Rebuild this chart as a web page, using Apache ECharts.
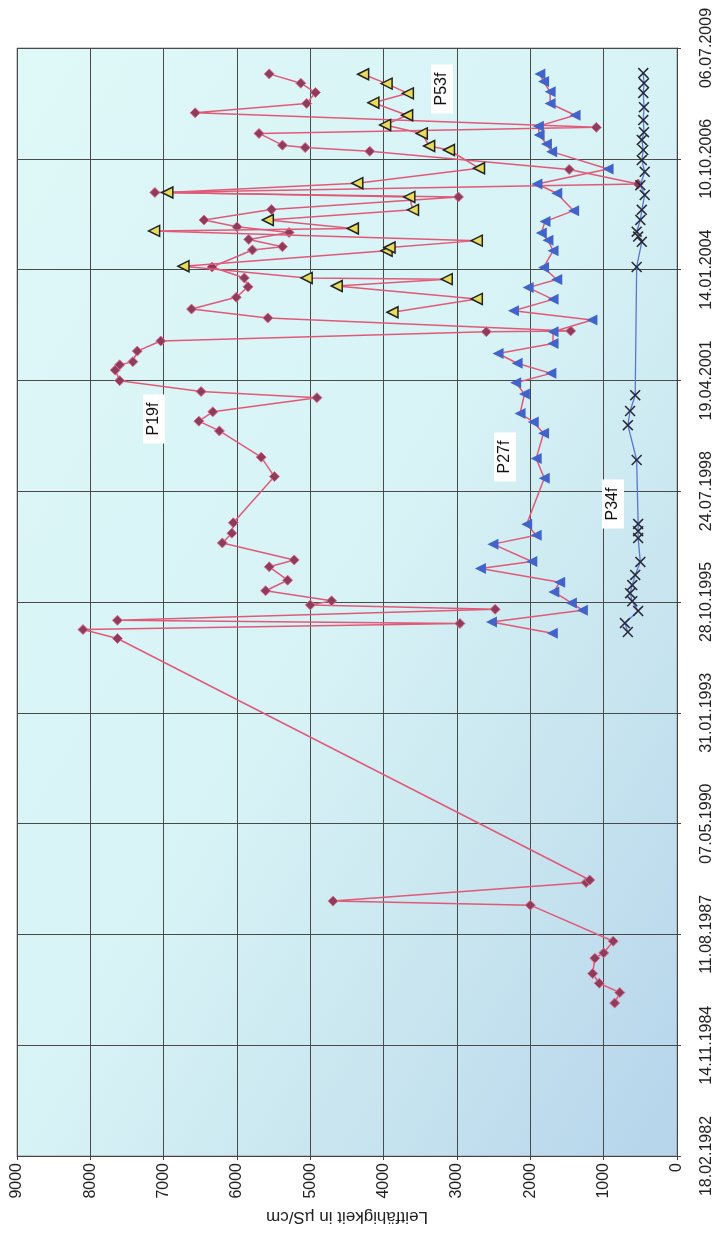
<!DOCTYPE html>
<html><head><meta charset="utf-8">
<script src="https://cdn.jsdelivr.net/npm/echarts@6/dist/echarts.min.js"></script>
<style>html,body{margin:0;padding:0;background:#fff}#c{width:715px;height:1241px}</style>
</head><body><div id="c"></div>
<script>
// tick labels of the date axis (every 1000 days, Excel serials 30000..40000)
const dateLabels = ['18.02.1982','14.11.1984','11.08.1987','07.05.1990','31.01.1993','28.10.1995','24.07.1998','19.04.2001','14.01.2004','10.10.2006','06.07.2009'];
const valueTicks = [0,1000,2000,3000,4000,5000,6000,7000,8000,9000];

// sampling dates (decimal years) and conductivity in µS/cm
const p19Dates = [1985.91,1986.17,1986.40,1986.64,1987.02,1987.15,1987.44,1988.33,1988.43,1988.89,1988.95,1994.92,1995.14,1995.29,1995.37,1995.64,1995.75,1995.85,1996.10,1996.36,1996.69,1996.86,1997.28,1997.52,1997.78,1998.92,1999.40,2000.05,2000.29,2000.52,2000.87,2001.02,2001.29,2001.55,2001.68,2001.76,2002.02,2002.27,2002.50,2002.52,2002.84,2003.06,2003.35,2003.61,2003.83,2004.10,2004.52,2004.60,2004.78,2004.95,2005.09,2005.26,2005.52,2005.83,2005.94,2006.15,2006.51,2006.96,2007.05,2007.11,2007.40,2007.55,2007.91,2008.14,2008.41,2008.64,2008.87];
const p19Values = [850,780,1060,1150,1120,1000,870,2000,4690,1240,1190,7630,8100,2960,7630,2480,5000,4710,5610,5310,5560,5220,6200,6070,6050,5490,5670,6240,6520,6330,4910,6490,7600,7660,7600,7420,7360,7040,2600,1450,5580,6620,6010,5850,5900,6340,5790,5380,5840,5290,6000,6450,5530,2980,7120,530,1470,4190,5070,5380,5700,1100,6570,5050,4930,5130,5560];

const p27Dates = [1995.05,1995.33,1995.62,1995.80,1996.07,1996.31,1996.65,1996.82,1997.25,1997.47,1997.74,1998.88,1999.37,1999.99,2000.27,2000.48,2000.96,2001.24,2001.47,2001.72,2001.96,2002.21,2002.50,2002.79,2003.02,2003.30,2003.59,2003.79,2004.09,2004.50,2004.76,2004.94,2005.22,2005.49,2005.92,2006.15,2006.52,2006.95,2007.14,2007.36,2007.58,2007.85,2008.14,2008.43,2008.68,2008.87];
const p27Values = [1700,2530,1290,1440,1680,1600,2680,1980,2510,1920,2050,1810,1920,1820,1960,2140,2080,2200,1720,2180,2440,1690,1690,1160,2230,1690,2030,1640,1820,1690,1760,1850,1800,1410,1640,1910,940,1710,1780,1880,1890,1390,1730,1730,1820,1870];

const p34Dates = [1995.08,1995.30,1995.60,1995.84,1996.04,1996.24,1996.49,1996.81,1997.40,1997.57,1997.75,1999.33,2000.19,2000.54,2000.93,2004.10,2004.72,2004.85,2004.97,2005.26,2005.51,2005.88,2006.12,2006.45,2006.74,2006.99,2007.24,2007.43,2007.73,2008.05,2008.40,2008.64,2008.89];
const p34Values = [670,710,530,610,640,610,570,500,530,530,530,550,670,640,570,550,480,530,550,500,480,440,500,440,480,460,480,450,460,450,460,450,460];

const p53Dates = [2002.98,2003.31,2003.63,2003.80,2003.83,2004.12,2004.50,2004.58,2004.75,2004.99,2005.05,2005.26,2005.51,2005.83,2005.94,2006.17,2006.54,2006.99,2007.09,2007.40,2007.61,2007.85,2008.16,2008.39,2008.63,2008.86];
const p53Values = [3880,2730,4640,3140,5050,6730,3960,3920,2730,7130,4420,5580,3600,3650,6950,4360,2700,3110,3380,3480,3980,3680,4140,3670,3960,4280];

function toSerial(y) {
  const Y = Math.floor(y);
  const a = Date.UTC(Y, 0, 1), b = Date.UTC(Y + 1, 0, 1);
  return (a + (y - Y) * (b - a)) / 864e5 + 25569;
}
function pairs(dates, vals) { return vals.map((v, i) => [v, toSerial(dates[i])]); }

const RED = '#e05a78';
const crossPath = 'path://M0,1 L1,0 L5,4 L9,0 L10,1 L6,5 L10,9 L9,10 L5,6 L1,10 L0,9 L4,5 Z';

const chart = echarts.init(document.getElementById('c'), null, {renderer: 'canvas'});
const labelBox = (txt, x, y) => ({
  type: 'text', x: x, y: y, rotation: Math.PI / 2, z: 100,
  style: {text: txt, fontSize: 16, fontFamily: 'Liberation Sans, Arial, sans-serif', fill: '#111',
    align: 'center', verticalAlign: 'middle', backgroundColor: '#fff', padding: [3, 8, 3, 8]}
});

chart.setOption({
  animation: false,
  backgroundColor: '#fff',
  textStyle: {fontFamily: 'Liberation Sans, Arial, sans-serif'},
  grid: {left: 17, right: 38, top: 48, bottom: 85, show: true, borderColor: '#9a9a9a', borderWidth: 1,
    backgroundColor: new echarts.graphic.LinearGradient(0, 0, 1.476, 0.524, [
      {offset: 0, color: '#dff8f8'}, {offset: 0.5, color: '#d7f3f6'}, {offset: 0.72, color: '#c9e6f0'}, {offset: 1, color: '#b6d4eb'}])},
  xAxis: {
    type: 'value', inverse: true, min: 0, max: 9000, interval: 1000, position: 'bottom',
    name: 'Leitfähigkeit in µS/cm', nameLocation: 'middle', nameGap: 52, nameRotate: 180,
    nameTextStyle: {fontSize: 17, color: '#222'},
    axisLine: {show: true, lineStyle: {color: '#444'}},
    axisTick: {show: true, length: 4, lineStyle: {color: '#444'}},
    axisLabel: {rotate: 90, fontSize: 16, color: '#222', margin: 7,
      formatter: v => String(valueTicks[Math.round(v / 1000)])},
    splitLine: {show: true, lineStyle: {color: '#4a4a4a', width: 1}}
  },
  yAxis: {
    type: 'value', min: 30000, max: 40000, interval: 1000, position: 'right',
    axisLine: {show: true, lineStyle: {color: '#444'}},
    axisTick: {show: true, length: 4, lineStyle: {color: '#444'}},
    axisLabel: {rotate: 90, fontSize: 16, color: '#222', margin: 22,
      formatter: v => dateLabels[Math.round((v - 30000) / 1000)]},
    splitLine: {show: true, lineStyle: {color: '#4a4a4a', width: 1}}
  },
  series: [
    {name: 'P19f', type: 'line', data: pairs(p19Dates, p19Values), symbol: 'diamond', symbolSize: 10,
      lineStyle: {color: RED, width: 1.5}, itemStyle: {color: '#8e3c5c', borderColor: '#e07090', borderWidth: 1}, z: 2},
    {name: 'P53f', type: 'line', data: pairs(p53Dates, p53Values), symbol: 'triangle', symbolSize: 11, symbolRotate: 90,
      lineStyle: {color: RED, width: 1.5}, itemStyle: {color: '#e8dc5a', borderColor: '#222', borderWidth: 1.5}, z: 3},
    {name: 'P27f', type: 'line', data: pairs(p27Dates, p27Values), symbol: 'triangle', symbolSize: 11, symbolRotate: 90,
      lineStyle: {color: RED, width: 1.5}, itemStyle: {color: '#4263c9', borderWidth: 0}, z: 4},
    {name: 'P34f', type: 'line', data: pairs(p34Dates, p34Values), symbol: crossPath, symbolSize: 11,
      lineStyle: {color: '#5677d6', width: 1.3}, itemStyle: {color: '#2a2a36', borderWidth: 0}, z: 5}
  ],
  graphic: [
    labelBox('P19f', 154, 419),
    labelBox('P27f', 505, 457),
    labelBox('P34f', 613, 504),
    labelBox('P53f', 442, 89)
  ]
});
</script></body></html>
